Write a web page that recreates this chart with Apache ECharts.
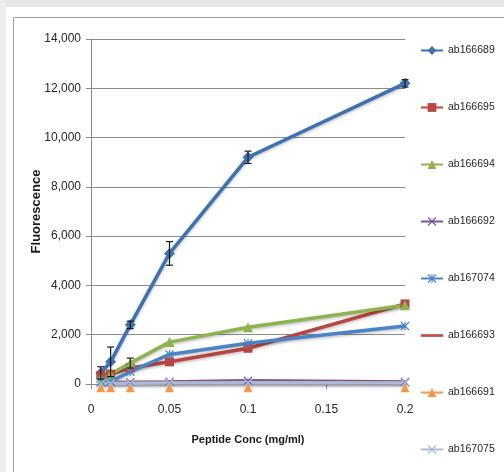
<!DOCTYPE html>
<html>
<head>
<meta charset="utf-8">
<script src="https://cdn.jsdelivr.net/npm/echarts@6/dist/echarts.min.js"></script>
<style>
  html, body { margin: 0; padding: 0; background: #ffffff; }
  #chart { width: 504px; height: 472px; }
</style>
</head>
<body>
<div id="chart"></div>
<script>
// Peptide concentrations (mg/ml)
const conc = [0.00625, 0.0125, 0.025, 0.05, 0.1, 0.2];

// Fluorescence per antibody
const ab166689 = [450, 900, 2400, 5300, 9200, 12200];
const ab166695 = [350, 400, 650, 900, 1450, 3250];
const ab166694 = [250, 400, 850, 1700, 2300, 3200];
const ab166692 = [60, 60, 70, 80, 130, 80];
const ab167074 = [100, 100, 500, 1200, 1650, 2350];
const ab166693 = [30, 40, 50, 60, 70, 60];
const ab166691 = [-150, -150, -150, -150, -150, -150];
const ab167075 = [20, 20, 30, 40, 50, 40];

// Standard deviations shown as error bars
const err166689 = [250, 600, 150, 480, 250, 150];
const err166694 = [0, 0, 200, 0, 0, 0];

const xTicks = [0, 0.05, 0.1, 0.15, 0.2];
const yTicks = [0, 2000, 4000, 6000, 8000, 10000, 12000, 14000];

const X_MARK = 'path://M0,1 L1,0 L5,4 L9,0 L10,1 L6,5 L10,9 L9,10 L5,6 L1,10 L0,9 L4,5 Z';
const STAR_MARK = 'path://M0,1 L1,0 L4.4,3.4 L4.4,0 L5.6,0 L5.6,3.4 L9,0 L10,1 L6,5 L10,9 L9,10 L5.6,6.6 L5.6,10 L4.4,10 L4.4,6.6 L1,10 L0,9 L4,5 Z';
const LINE_ICON = 'path://M0,4 H24 V7 H0 Z';

// hideLine: line drawn below the plot floor is cut away, markers stay
const seriesDefs = [
  { name: 'ab166689', data: ab166689, color: '#3e70b2', symbol: 'diamond', size: 11 },
  { name: 'ab166695', data: ab166695, color: '#b84643', symbol: 'rect', size: 9 },
  { name: 'ab166694', data: ab166694, color: '#8fb34e', symbol: 'triangle', size: 10 },
  { name: 'ab166692', data: ab166692, color: '#735a98', symbol: X_MARK, size: 9 },
  { name: 'ab167074', data: ab167074, color: '#4a84c6', symbol: STAR_MARK, size: 9 },
  { name: 'ab166693', data: ab166693, color: '#c0504d', symbol: 'none', size: 0 },
  { name: 'ab166691', data: ab166691, color: '#f4974a', symbol: 'triangle', size: 9, hideLine: true },
  { name: 'ab167075', data: ab167075, color: '#a9bbd9', symbol: X_MARK, size: 9 }
];

const fmt = v => v.toLocaleString('en-US');

const lineSeries = seriesDefs.map(d => ({
  name: d.name,
  type: 'line',
  data: conc.map((c, i) => [c, d.data[i]]),
  symbol: d.symbol,
  symbolSize: d.size,
  showSymbol: d.symbol !== 'none',
  clip: false,
  lineStyle: {
    width: 3.5,
    color: d.color,
    opacity: d.hideLine ? 0 : 1,
    shadowColor: 'rgba(0,0,0,0.25)',
    shadowBlur: 3,
    shadowOffsetY: 1.5
  },
  itemStyle: { color: d.color, borderColor: d.color, borderWidth: 0 },
  emphasis: { disabled: true },
  animation: false
}));

function errorSeries(values, errs) {
  return {
    type: 'custom',
    silent: true,
    z: 10,
    animation: false,
    data: conc.map((c, i) => [c, values[i] - errs[i], values[i] + errs[i]]).filter((p, i) => errs[i] > 0),
    renderItem: function (params, api) {
      const lo = api.coord([api.value(0), api.value(1)]);
      const hi = api.coord([api.value(0), api.value(2)]);
      const cap = 3.5;
      const style = { stroke: '#1a1a1a', lineWidth: 1.2 };
      return {
        type: 'group',
        children: [
          { type: 'line', shape: { x1: hi[0], y1: hi[1], x2: lo[0], y2: lo[1] }, style: style },
          { type: 'line', shape: { x1: hi[0] - cap, y1: hi[1], x2: hi[0] + cap, y2: hi[1] }, style: style },
          { type: 'line', shape: { x1: lo[0] - cap, y1: lo[1], x2: lo[0] + cap, y2: lo[1] }, style: style }
        ]
      };
    }
  };
}

const legendData = seriesDefs.map(d => {
  const item = { name: d.name };
  if (d.symbol === 'none') item.icon = LINE_ICON;
  if (d.hideLine) item.lineStyle = { opacity: 1 };
  return item;
});

const chart = echarts.init(document.getElementById('chart'), null, { renderer: 'canvas' });

chart.setOption({
  backgroundColor: '#ffffff',
  animation: false,
  textStyle: { fontFamily: 'Liberation Sans, Arial, sans-serif' },
  graphic: [
    { type: 'rect', shape: { x: 0, y: 0, width: 504, height: 7 }, style: { fill: '#e6e6e6' }, silent: true },
    { type: 'rect', shape: { x: 0, y: 0, width: 6, height: 472 }, style: { fill: '#eeeeee' }, silent: true },
    { type: 'rect', shape: { x: 13.5, y: 17.5, width: 600, height: 600 }, style: { fill: 'none', stroke: '#a0a0a0', lineWidth: 1 }, silent: true }
  ],
  grid: { left: 91, right: 99, top: 39, bottom: 88, containLabel: false },
  legend: {
    orient: 'vertical',
    left: 415,
    top: 40,
    itemWidth: 22,
    itemHeight: 11,
    itemGap: 46,
    selectedMode: false,
    textStyle: { fontSize: 10.5, color: '#262626' },
    data: legendData
  },
  xAxis: {
    type: 'value',
    min: 0,
    max: 0.2,
    interval: 0.05,
    name: 'Peptide Conc (mg/ml)',
    nameLocation: 'middle',
    nameGap: 50,
    nameTextStyle: { fontSize: 11, fontWeight: 'bold', color: '#1a1a1a' },
    axisLine: { show: true, lineStyle: { color: '#8c8c8c', width: 1 } },
    axisTick: { show: true, inside: false, length: 5, lineStyle: { color: '#8c8c8c' } },
    axisLabel: {
      fontSize: 12,
      color: '#262626',
      margin: 20,
      formatter: v => (xTicks.find(t => Math.abs(t - v) < 1e-9) ?? v).toString()
    },
    splitLine: { show: false }
  },
  yAxis: {
    type: 'value',
    min: 0,
    max: 14000,
    interval: 2000,
    name: 'Fluorescence',
    nameLocation: 'middle',
    nameGap: 48,
    nameMoveOverlap: false,
    nameRotate: 90,
    nameTextStyle: { fontSize: 13, fontWeight: 'bold', color: '#1a1a1a' },
    axisLine: { show: true, lineStyle: { color: '#8c8c8c', width: 1 } },
    axisTick: { show: true, inside: false, length: 5, lineStyle: { color: '#8c8c8c' } },
    axisLabel: {
      fontSize: 12,
      color: '#262626',
      margin: 10,
      formatter: v => fmt(yTicks.find(t => t === v) ?? v)
    },
    splitLine: { show: true, lineStyle: { color: '#8c8c8c', width: 1 } }
  },
  series: lineSeries.concat([errorSeries(ab166689, err166689), errorSeries(ab166694, err166694)])
});
</script>
</body>
</html>
